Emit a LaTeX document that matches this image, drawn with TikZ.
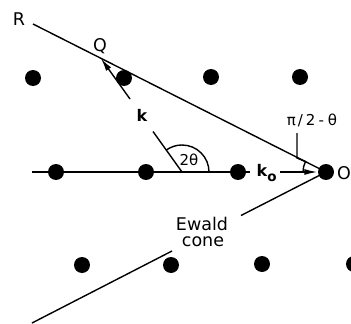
\documentclass[tikz,border=0pt]{standalone}
\usepackage{fontspec}
\setmainfont{DejaVu Sans}
\usetikzlibrary{arrows.meta}
\begin{document}
\begin{tikzpicture}[x=1pt,y=-1pt, line width=1.4pt,
  dot/.style={circle,fill=black,inner sep=0pt,minimum size=16pt},
  lbl/.style={inner sep=0pt,font=\fontsize{17.5}{20}\selectfont},
  sml/.style={inner sep=0pt,font=\fontsize{16}{18}\selectfont},
  vec/.style={-{Latex[length=13pt,width=6pt]}}]
\useasboundingbox (0,0) rectangle (351,324);
\clip (0,0) rectangle (351,324);
% lattice points
\node[dot] (a1) at (33,78) {};
\node[dot] (a2) at (124,78) {};
\node[dot] (a3) at (211,77) {};
\node[dot] (a4) at (300,77) {};
\node[dot] (b1) at (56,172) {};
\node[dot] (b2) at (146,172) {};
\node[dot] (b3) at (238,172) {};
\node[dot] (O) at (326,172) {};
\node[dot] (c1) at (82,265) {};
\node[dot] (c2) at (171,265) {};
\node[dot] (c3) at (262,264) {};
\node[dot] (c4) at (354,264) {};
% coordinates
\coordinate (R) at (33,24);
\coordinate (Q) at (101,58.5);
\coordinate (V) at (182,172);
\coordinate (k1) at (153,131.5);
\coordinate (k2) at (130,99);
\coordinate (H0) at (32,172);
\coordinate (H1) at (250,172);
\coordinate (H2) at (280,172);
\coordinate (E0) at (32,323);
\coordinate (E1) at (172,251);
\coordinate (E2) at (241,215.5);
\coordinate (L0) at (297,133);
\coordinate (L1) at (297,158);
\coordinate (L2) at (305.5,161.6);
% labels
\node[lbl] (Rl) at (19,19) {R};
\node[lbl] (Ql) at (100,46) {Q};
\node[lbl] (Ol) at (344,173) {O};
\node[sml] (kl) at (142,115) {\bfseries k};
\node[sml,anchor=base west] (k0l) at (256,176) {\bfseries k\raisebox{-5pt}{\fontsize{13.5}{14}\selectfont o}};
\node[inner sep=0pt,font=\fontsize{15}{17}\selectfont] (tt) at (189,160) {2θ};
\node[inner sep=0pt,font=\fontsize{15}{17}\selectfont] (pl) at (312,120) {π\kern2pt/\kern3pt2\kern3pt-\kern4pt θ};
\node[lbl] (ew) at (202,224) {Ewald};
\node[lbl] (co) at (203,242) {cone};
% lines
\draw (R) -- (O.center);
\draw (E0) -- (E1);
\draw (E2) -- (O.center);
\draw (H0) -- (H1);
\draw[vec] (H2) -- (O);
\draw (V) -- (k1);
\draw[vec] (k2) -- (Q);
\draw (V) ++(27,0) arc[start angle=0,end angle=-125.6,radius=27];
\draw (O.center) ++(-23,0) arc[start angle=180,end angle=206.8,radius=23];
\draw (L0) -- (L1) -- (L2);
\end{tikzpicture}
\end{document}
